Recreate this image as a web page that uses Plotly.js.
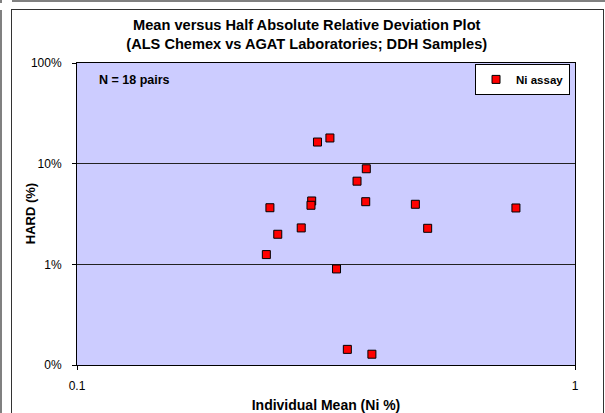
<!DOCTYPE html>
<html>
<head>
<meta charset="utf-8">
<script src="https://cdn.plot.ly/plotly-3.0.1.min.js"></script>
<style>
  html, body { margin: 0; padding: 0; background: #fff; }
  #wrap { position: relative; width: 605px; height: 413px; overflow: hidden; background: #fff; }
  .deco { position: absolute; background: #808080; }
  #frame { position: absolute; left: 11px; top: 9px; width: 591px; height: 420px; border: 1.5px solid #333; }
  #chart { position: absolute; left: 0; top: 0; width: 605px; height: 413px; }
</style>
</head>
<body>
<div id="wrap">
  <div class="deco" style="left:0;top:0;width:2px;height:3px;"></div>
  <div class="deco" style="left:0;top:10px;width:2px;height:403px;"></div>
  <div class="deco" style="left:12px;top:0;width:593px;height:2px;"></div>
  <div id="frame"></div>
  <div id="chart"></div>
</div>
<script>
// Individual mean (Ni %) and HARD (%) for each pair
const meanNi = [0.304, 0.322, 0.381, 0.365, 0.296, 0.295, 0.244, 0.380, 0.478, 0.506,
                0.282, 0.253, 0.240, 0.332, 0.349, 0.391, 0.761];
const hardPct = [16.4, 18.0, 8.9, 6.7, 4.26, 3.86, 3.65, 4.19, 3.95, 2.28,
                 2.30, 1.99, 1.25, 0.90, 0.143, 0.128, 3.63];
const seriesName = "Ni assay";
const yTickVals = [0.1, 1, 10, 100];
const yTickText = ["0%", "1%", "10%", "100%"];
const xTickVals = [0.1, 1];
const xTickText = ["0.1", "1"];

const FONT = "Arial, 'Liberation Sans', sans-serif";

const trace = {
  x: meanNi, y: hardPct, type: "scatter", mode: "markers", name: "<b>" + seriesName + "</b>",
  marker: { symbol: "square", size: 8, color: "#FF0000", line: { color: "#000000", width: 1 } }
};

const layout = {
  width: 605, height: 413,
  margin: { l: 77, r: 30, t: 63, b: 48 },
  paper_bgcolor: "rgba(0,0,0,0)",
  plot_bgcolor: "#CCCCFF",
  font: { family: FONT, color: "#000", size: 12 },
  title: {
    text: "<b>Mean versus Half Absolute Relative Deviation Plot<br>(ALS Chemex vs AGAT Laboratories; DDH Samples)</b>",
    font: { size: 14.6, family: FONT, color: "#000" },
    x: 0.507, xanchor: "center", y: 0.927, yanchor: "top"
  },
  xaxis: {
    type: "log", range: [-1, 0], tickvals: xTickVals, ticktext: xTickText,
    ticks: "outside", ticklen: 4, tickcolor: "#000", showgrid: false, zeroline: false,
    showline: true, linecolor: "#000", linewidth: 1, mirror: true,
    tickfont: { size: 12 }, ticklabelstandoff: 6,
    title: { text: "<b>Individual Mean (Ni %)</b>", font: { size: 14 }, standoff: 10 }
  },
  yaxis: {
    type: "log", range: [-1, 2], tickvals: yTickVals, ticktext: yTickText,
    ticks: "outside", ticklen: 4, tickcolor: "#000", showgrid: true, gridcolor: "#222", gridwidth: 1,
    zeroline: false, showline: true, linecolor: "#000", linewidth: 1, mirror: true,
    tickfont: { size: 12 }, ticklabelstandoff: 8
  },
  showlegend: true,
  legend: {
    x: 0.99, xanchor: "right", y: 0.997, yanchor: "top",
    bgcolor: "#FFFFFF", bordercolor: "#000", borderwidth: 1,
    font: { size: 11.5, family: FONT },
    itemwidth: 30
  },
  annotations: [
    {
      text: "<b>N = 18 pairs</b>", xref: "paper", yref: "paper", x: 0.04, y: 0.945,
      xanchor: "left", yanchor: "middle", showarrow: false, font: { size: 12.5 }
    },
    {
      text: "<b>HARD (%)</b>", xref: "paper", yref: "paper", x: -0.094, y: 0.5,
      xanchor: "center", yanchor: "middle", textangle: -90, showarrow: false, font: { size: 13 }
    }
  ]
};

Plotly.newPlot("chart", [trace], layout, { displayModeBar: false, staticPlot: true });
</script>
</body>
</html>
